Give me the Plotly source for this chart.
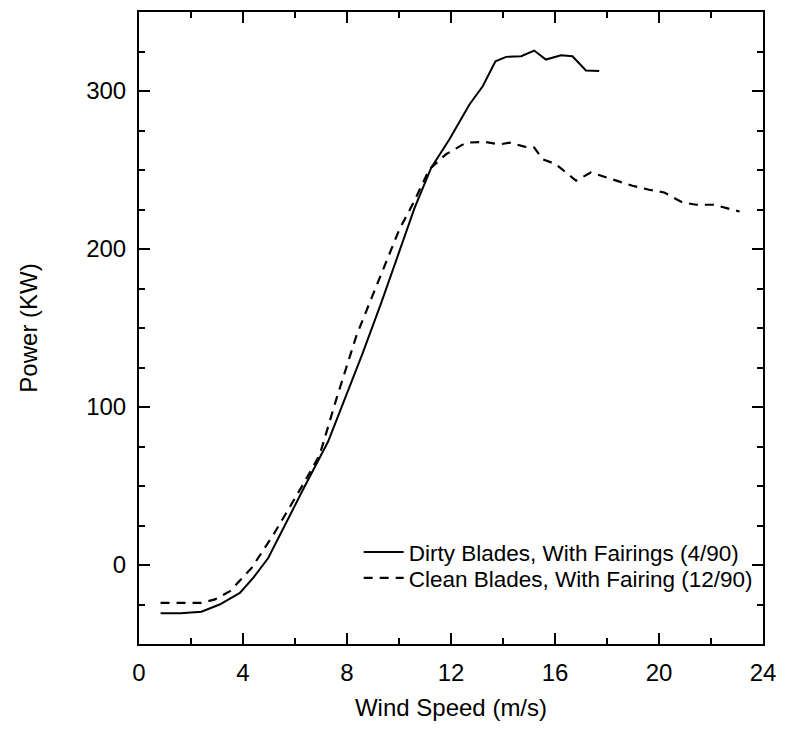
import plotly.graph_objects as go

# Wind speed (m/s) and power (kW)
dirty_speed = [0.83, 1.6, 2.4, 3.1, 3.88, 4.4, 4.97, 5.6, 6.37, 7.27, 7.98, 8.6,
               9.32, 10.0, 10.6, 11.24, 11.94, 12.71, 13.22, 13.71, 14.12, 14.7,
               15.2, 15.65, 16.23, 16.67, 17.19, 17.7]
dirty_power = [-30.5, -30.5, -29.6, -25, -17.7, -8, 4.4, 25, 49.7, 78, 107.5, 134,
               166, 198, 226, 251.5, 269.4, 291.5, 303, 318.8, 321.6, 322,
               325.6, 319.9, 322.6, 322, 313, 312.6]

clean_speed = [0.83, 2.4, 2.92, 3.5, 4.33, 5.17, 6.3, 6.95, 7.59, 8.36, 8.87,
               10.02, 10.53, 11.17, 11.81, 12.58, 13.28, 13.86, 14.25, 14.82,
               15.2, 15.53, 16.04, 16.49, 16.81, 17.38, 18.2, 18.98, 19.62, 20.2,
               20.9, 21.42, 22.12, 23.1]
clean_power = [-24, -24, -21.8, -16.6, -1.9, 19.2, 50.7, 69.7, 105, 145, 166,
               212.6, 228.4, 250.5, 260, 267.3, 267.8, 266.2, 267.3, 264.8,
               264.2, 256.8, 253.6, 247.3, 243.2, 248.4, 244.2, 240, 237.5, 235.8,
               229.5, 228, 228, 223.7]

x_ticks = [0, 4, 8, 12, 16, 20, 24]
y_ticks = [0, 100, 200, 300]

series_names = ["Dirty Blades, With Fairings (4/90)",
                "Clean Blades, With Fairing (12/90)"]

FONT = "Liberation Sans, Arial, Helvetica, sans-serif"

fig = go.Figure()
fig.add_trace(go.Scatter(x=dirty_speed, y=dirty_power, mode="lines",
                         name=series_names[0], legend="legend",
                         line=dict(color="black", width=2, dash="solid")))
fig.add_trace(go.Scatter(x=clean_speed, y=clean_power, mode="lines",
                         name=series_names[1], legend="legend2",
                         line=dict(color="black", width=2.2, dash="9px,7px")))

axis_common = dict(
    showline=True, linecolor="black", linewidth=2, mirror="ticks",
    ticks="inside", ticklen=11, tickwidth=2, tickcolor="black",
    showgrid=False, zeroline=False,
    tickfont=dict(family=FONT, size=24, color="black"),
)

fig.update_xaxes(
    range=[0, 24], tickmode="array", tickvals=x_ticks,
    ticktext=[str(v) for v in x_ticks],
    minor=dict(ticks="inside", dtick=2, tick0=0, ticklen=6, tickwidth=2,
               tickcolor="black", showgrid=False),
    title=dict(text="Wind Speed (m/s)", font=dict(family=FONT, size=24, color="black"),
               standoff=14),
    ticklabelstandoff=6,
    **axis_common,
)
fig.update_yaxes(
    range=[-50, 350], tickmode="array", tickvals=y_ticks,
    ticktext=[str(v) for v in y_ticks],
    minor=dict(ticks="inside", dtick=25, tick0=0, ticklen=6, tickwidth=2,
               tickcolor="black", showgrid=False),
    title=dict(text="Power (KW)", font=dict(family=FONT, size=24, color="black"),
               standoff=42),
    ticklabelstandoff=6,
    **axis_common,
)

legend_common = dict(xanchor="left", yanchor="middle",
                     bgcolor="rgba(0,0,0,0)", borderwidth=0,
                     font=dict(family=FONT, size=22.5, color="black"),
                     itemwidth=40)

fig.update_layout(
    width=777, height=722,
    margin=dict(l=131, r=22, t=2, b=86),
    paper_bgcolor="white", plot_bgcolor="white",
    font=dict(family=FONT, color="black"),
    showlegend=True,
    legend=dict(x=0.352, y=0.145, **legend_common),
    legend2=dict(x=0.352, y=0.104, **legend_common),
)

fig.write_html("out.html")
